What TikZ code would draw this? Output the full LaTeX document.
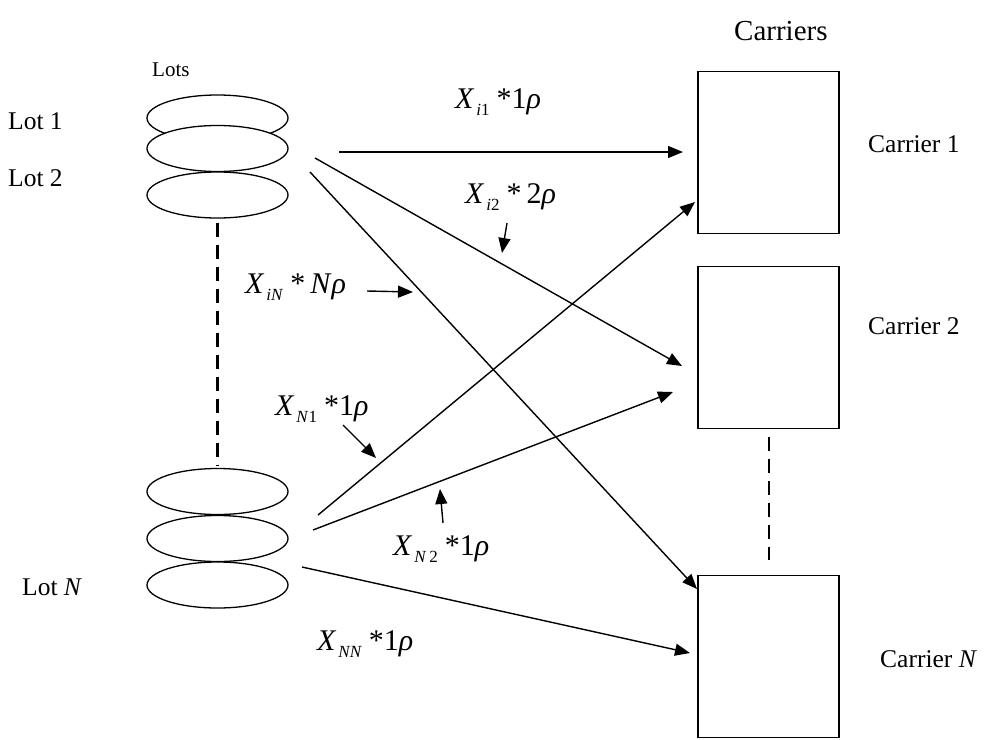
\documentclass[tikz,border=0pt]{standalone}
\usepackage{fontspec}
\setmainfont{Liberation Serif}
\usetikzlibrary{arrows.meta,shapes.geometric,calc}
\newcommand{\xlab}[2]{\textit{X}\kern2pt\raisebox{-7pt}{\fontsize{17}{17}\selectfont #1}\kern7pt*#2\textit{ρ}}
\begin{document}
\begin{tikzpicture}[x=1pt,y=-1pt,
  lotell/.style={ellipse,draw,fill=white,minimum width=141pt,minimum height=46pt,inner sep=0pt,line width=1.3pt},
  carbox/.style={rectangle,draw,minimum width=141pt,minimum height=162pt,inner sep=0pt,line width=1.3pt},
  conn/.style={line width=1.4pt,-{Triangle[length=15pt,width=12pt]}},
  dashln/.style={line width=2.6pt,dash pattern=on 14pt off 8pt},
  txt/.style={anchor=base west,inner sep=0pt,font=\fontsize{25.5}{25.5}\selectfont},
  mlab/.style={anchor=base west,inner sep=0pt,font=\fontsize{30}{30}\selectfont}]
\useasboundingbox (0,0) rectangle (984,739);
% lots
\node[lotell] (t1) at (217.5,118) {};
\node[lotell] (t2) at (217.5,148.5) {};
\node[lotell] (t3) at (217.5,195) {};
\node[lotell] (b1) at (217.5,491.5) {};
\node[lotell] (b2) at (217.5,538.5) {};
\node[lotell] (b3) at (217.5,585) {};
\draw[dashln] ($(t3.south)+(0,4)$) -- ($(b1.north)+(0,-2)$);
% carriers
\node[carbox] (c1) at (768.5,152.5) {};
\node[carbox] (c2) at (768.5,347.5) {};
\node[carbox] (c3) at (768.5,656.5) {};
% texts
\node[txt,font=\fontsize{21}{21}\selectfont] (lots) at (152,76) {Lots};
\node[txt,font=\fontsize{29}{29}\selectfont] (cars) at (734,40) {Carriers};
\node[txt] (l1) at (8,129) {Lot 1};
\node[txt] (l2) at (8,186) {Lot 2};
\node[txt] (ln) at (22,595) {Lot \textit{N}};
\node[txt] (k1) at (868,152) {Carrier 1};
\node[txt] (k2) at (868,334) {Carrier 2};
\node[txt] (kn) at (880,667) {Carrier \textit{N}};
% math labels
\node[mlab] (m1) at (455,108) {\xlab{\textit{i}1}{1}};
\node[mlab] (m2) at (465,203) {\xlab{\textit{i}2}{\,2}};
\node[mlab] (m3) at (245,293) {\xlab{\textit{iN}}{\,\textit{N}}};
\node[mlab] (m4) at (275,415) {\xlab{\textit{N}1}{1}};
\node[mlab] (m5) at (393,555) {\xlab{\textit{N}\,2}{1}};
\node[mlab] (m6) at (317,650) {\xlab{\textit{NN}}{1}};
% connector ends
\coordinate (s1) at (339,152); \coordinate (e1) at (683,152);
\coordinate (s2) at (315,158); \coordinate (e2) at (682,366);
\coordinate (s3) at (310,172); \coordinate (e3) at (697,589);
\coordinate (s4) at (318,515); \coordinate (e4) at (695,202);
\coordinate (s5) at (313,530); \coordinate (e5) at (673,392);
\coordinate (s6) at (302,567); \coordinate (e6) at (690,653);
\draw[conn] (s1) -- (e1);
\draw[conn] (s2) -- (e2);
\draw[conn] (s3) -- (e3);
\draw[conn] (s4) -- (e4);
\draw[conn] (s5) -- (e5);
\draw[conn] (s6) -- (e6);
% pointers
\coordinate (pa1) at (507,223); \coordinate (pa2) at (502,253);
\coordinate (pb1) at (367,291); \coordinate (pb2) at (413,292);
\coordinate (pc1) at (343,425); \coordinate (pc2) at (376,458);
\coordinate (pd1) at (443,523); \coordinate (pd2) at (440,489);
\draw[conn] (pa1) -- (pa2);
\draw[conn] (pb1) -- (pb2);
\draw[conn] (pc1) -- (pc2);
\draw[conn] (pd1) -- (pd2);
% right dashed
\coordinate (rd1) at (769,437); \coordinate (rd2) at (769,560);
\draw[dashln] (rd1) -- (rd2);
\end{tikzpicture}
\end{document}
